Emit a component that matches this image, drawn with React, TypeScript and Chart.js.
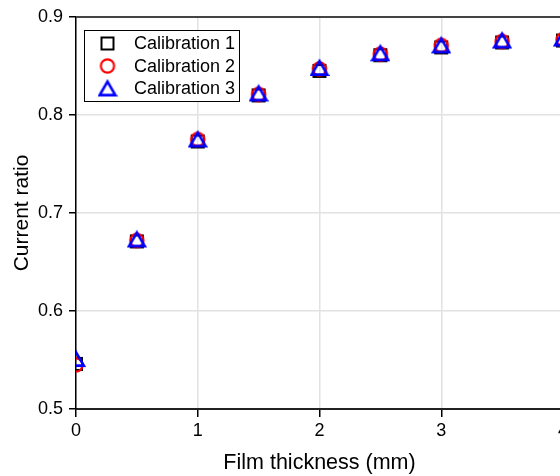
import React, { useEffect, useRef } from "react";
import { Chart, registerables } from "chart.js";

Chart.register(...registerables);

const thickness = [0, 0.5, 1, 1.5, 2, 2.5, 3, 3.5, 4];
const calibration1 = [0.546, 0.671, 0.773, 0.82, 0.845, 0.861, 0.869, 0.874, 0.876];
const calibration2 = [0.545, 0.672, 0.775, 0.821, 0.847, 0.862, 0.871, 0.875, 0.877];
const calibration3 = [0.551, 0.673, 0.775, 0.822, 0.848, 0.863, 0.871, 0.876, 0.878];
const seriesLabels = ["Calibration 1", "Calibration 2", "Calibration 3"];
const xTickValues = [0, 1, 2, 3, 4];
const yTickValues = [0.5, 0.6, 0.7, 0.8, 0.9];
const xTitle = "Film thickness (mm)";
const yTitle = "Current ratio";

const FONT = "'Liberation Sans', Arial, Helvetica, sans-serif";

function makeMarker(kind: string): HTMLCanvasElement {
  const c = document.createElement("canvas");
  const s = 20;
  c.width = s;
  c.height = s;
  const ctx = c.getContext("2d")!;
  const m = s / 2;
  ctx.lineJoin = "miter";
  if (kind === "square") {
    ctx.strokeStyle = "#000000";
    ctx.lineWidth = 2;
    ctx.strokeRect(m - 6, m - 6, 12, 12);
  } else if (kind === "circle") {
    ctx.strokeStyle = "#ff0000";
    ctx.lineWidth = 2.2;
    ctx.beginPath();
    ctx.arc(m, m, 6.6, 0, Math.PI * 2);
    ctx.stroke();
  } else {
    ctx.strokeStyle = "#0000ff";
    ctx.lineWidth = 2.6;
    ctx.beginPath();
    ctx.moveTo(m, m - 6.8);
    ctx.lineTo(m + 7.8, m + 6.6);
    ctx.lineTo(m - 7.8, m + 6.6);
    ctx.closePath();
    ctx.stroke();
  }
  return c;
}

export default function App() {
  const ref = useRef<HTMLCanvasElement | null>(null);

  useEffect(() => {
    if (!ref.current) return;
    const markers = [makeMarker("square"), makeMarker("circle"), makeMarker("triangle")];
    const series = [calibration1, calibration2, calibration3];

    const frameLegend = {
      id: "frameLegend",
      afterDatasetsDraw(chart: any) {
        const { ctx, chartArea } = chart;
        ctx.save();
        ctx.strokeStyle = "#444444";
        ctx.lineWidth = 2;
        ctx.beginPath();
        ctx.moveTo(chartArea.left, chartArea.top);
        ctx.lineTo(chartArea.right, chartArea.top);
        ctx.stroke();
        const bx = chartArea.left + 8.5;
        const by = chartArea.top + 13.5;
        const bw = 155;
        const bh = 71;
        ctx.fillStyle = "#ffffff";
        ctx.fillRect(bx, by, bw, bh);
        ctx.strokeStyle = "#000000";
        ctx.lineWidth = 1;
        ctx.strokeRect(bx, by, bw, bh);
        ctx.font = "18px " + FONT;
        ctx.fillStyle = "#000000";
        ctx.textBaseline = "middle";
        ctx.textAlign = "left";
        seriesLabels.forEach((lab, i) => {
          const cy = by + 13 + i * 22.5;
          const mk = markers[i];
          ctx.drawImage(mk, bx + 23 - mk.width / 2, cy - mk.height / 2);
          ctx.fillText(lab, bx + 49.5, cy + 1);
        });
        ctx.restore();
      },
    };

    const chart = new Chart(ref.current, {
      type: "scatter",
      data: {
        datasets: series.map((vals, i) => ({
          label: seriesLabels[i],
          data: thickness.map((x, j) => ({ x, y: vals[j] })),
          pointStyle: markers[i] as any,
          pointRadius: 8,
          showLine: false,
          clip: 0,
          order: 2 - i,
        })),
      },
      options: {
        animation: false,
        responsive: false,
        events: [],
        layout: { padding: { left: 0, top: 17, right: 17, bottom: 0 } },
        plugins: {
          legend: { display: false },
          tooltip: { enabled: false },
        },
        scales: {
          x: {
            type: "linear",
            min: 0,
            max: 4,
            afterBuildTicks: (scale: any) => {
              scale.ticks = xTickValues.map((v) => ({ value: v }));
            },
            afterFit: (scale: any) => {
              scale.height = 67;
            },
            ticks: {
              color: "#000000",
              font: { family: FONT, size: 18 },
              padding: 3,
              maxRotation: 0,
              callback: (v: any) => String(v),
            },
            grid: {
              color: "#e2e2e2",
              lineWidth: 1.5,
              tickLength: 8,
              tickColor: "#000000",
              tickWidth: 1.5,
            },
            border: { display: true, color: "#222222", width: 2 },
            title: {
              display: true,
              text: xTitle,
              color: "#000000",
              font: { family: FONT, size: 21.5 },
              padding: { top: 0, bottom: 0 },
            },
          },
          y: {
            type: "linear",
            min: 0.5,
            max: 0.9,
            afterBuildTicks: (scale: any) => {
              scale.ticks = yTickValues.map((v) => ({ value: v }));
            },
            afterFit: (scale: any) => {
              scale.width = 76;
            },
            ticks: {
              color: "#000000",
              font: { family: FONT, size: 18 },
              padding: 6,
              callback: (v: any) => Number(v).toFixed(1),
            },
            grid: {
              color: "#e2e2e2",
              lineWidth: 1.5,
              tickLength: 7,
              tickColor: "#000000",
              tickWidth: 1.5,
            },
            border: { display: true, color: "#000000", width: 1.5 },
            title: {
              display: true,
              text: yTitle,
              color: "#000000",
              font: { family: FONT, size: 21 },
              padding: { top: 10, bottom: 0 },
            },
          },
        },
      },
      plugins: [frameLegend],
    });
    return () => chart.destroy();
  }, []);

  return (
    <div
      style={{
        position: "fixed",
        left: 0,
        top: 0,
        width: 560,
        height: 476,
        overflow: "hidden",
        background: "#ffffff",
      }}
    >
      <canvas ref={ref} width={580} height={476} style={{ display: "block" }} />
    </div>
  );
}
